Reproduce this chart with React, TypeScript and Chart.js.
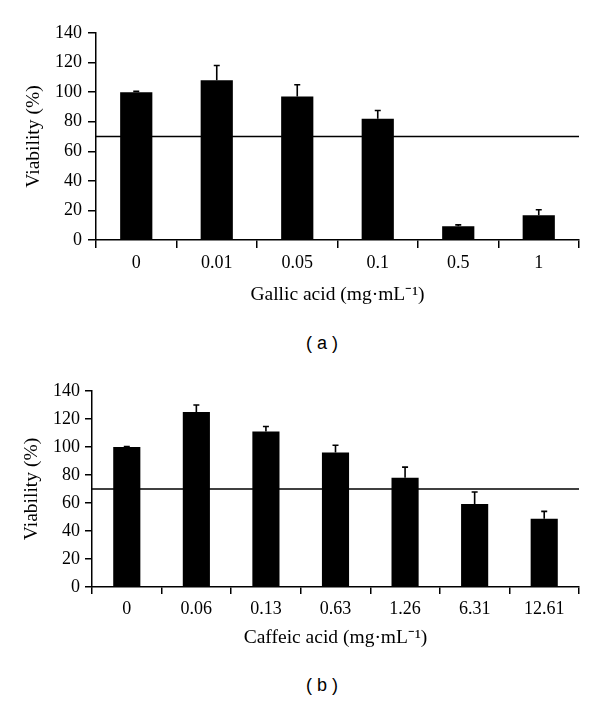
import React, { useEffect, useRef } from "react";
import Chart from "chart.js/auto";

// ---- Data ----
const gallicLabels = ["0", "0.01", "0.05", "0.1", "0.5", "1"];
const gallicValues = [100, 108, 97, 82, 9.3, 16.7];
const gallicErrors = [0.5, 10, 8, 5.6, 0.9, 3.8];

const caffeicLabels = ["0", "0.06", "0.13", "0.63", "1.26", "6.31", "12.61"];
const caffeicValues = [100, 125, 111, 96, 78, 59.3, 48.8];
const caffeicErrors = [0.3, 5, 3.6, 5.2, 7.6, 8.6, 5.2];

const yMin = 0;
const yMax = 140;
const yStep = 20;
const threshold = 70;

const SERIF = "'Liberation Serif', 'Times New Roman', serif";
const FONT_SIZE = 18;
const TITLE_SIZE = 19.5;

const errorBarPlugin = {
  id: "errorBars",
  afterDatasetsDraw(chart: any, _args: any, opts: any) {
    const errs: number[] = opts.errors || [];
    const meta = chart.getDatasetMeta(0);
    const ys = chart.scales.y;
    const ctx = chart.ctx;
    ctx.save();
    ctx.strokeStyle = "#000";
    ctx.lineWidth = 1.6;
    meta.data.forEach((bar: any, i: number) => {
      const v = chart.data.datasets[0].data[i] as number;
      const top = ys.getPixelForValue(v + errs[i]);
      ctx.beginPath();
      ctx.moveTo(bar.x, bar.y);
      ctx.lineTo(bar.x, top);
      ctx.moveTo(bar.x - 3, top);
      ctx.lineTo(bar.x + 3, top);
      ctx.stroke();
    });
    ctx.restore();
  },
};

const thresholdPlugin = {
  id: "thresholdLine",
  beforeDatasetsDraw(chart: any, _args: any, opts: any) {
    const { ctx, chartArea } = chart;
    const y = chart.scales.y.getPixelForValue(opts.value);
    ctx.save();
    ctx.strokeStyle = "#000";
    ctx.lineWidth = 1.5;
    ctx.beginPath();
    ctx.moveTo(chartArea.left, y);
    ctx.lineTo(chartArea.right, y);
    ctx.stroke();
    ctx.restore();
  },
};

type PanelProps = {
  labels: string[];
  values: number[];
  errors: number[];
  xTitle: string;
  width: number;
  height: number;
  padTop: number;
  padRight: number;
  yAxisWidth: number;
  xAxisHeight: number;
  yTitlePad: number;
  xTitlePad: number;
  tickLen: number;
  xTickPad: number;
  yTickPad: number;
  barPct: number;
};

function Panel(p: PanelProps) {
  const ref = useRef<HTMLCanvasElement | null>(null);
  useEffect(() => {
    if (!ref.current) return;
    const font = { family: SERIF, size: FONT_SIZE };
    const titleFont = { family: SERIF, size: TITLE_SIZE };
    const chart = new Chart(ref.current, {
      type: "bar",
      data: {
        labels: p.labels,
        datasets: [
          {
            data: p.values,
            backgroundColor: "#000",
            borderWidth: 0,
            barPercentage: p.barPct,
            categoryPercentage: 1,
          },
        ],
      },
      options: {
        responsive: false,
        animation: false,
        devicePixelRatio: 1,
        layout: { padding: { top: p.padTop, right: p.padRight, left: 0, bottom: 0 } },
        plugins: {
          legend: { display: false },
          tooltip: { enabled: false },
          errorBars: { errors: p.errors },
          thresholdLine: { value: threshold },
        } as any,
        scales: {
          x: {
            offset: true,
            grid: {
              display: true,
              offset: true,
              drawOnChartArea: false,
              drawTicks: true,
              tickLength: p.tickLen,
              color: "#000",
              lineWidth: 1.5,
            },
            border: { display: true, color: "#000", width: 1.5 },
            ticks: { color: "#000", font, padding: p.xTickPad, maxRotation: 0 },
            title: {
              display: true,
              text: p.xTitle,
              color: "#000",
              font: titleFont,
              padding: { top: 0, bottom: p.xTitlePad },
            },
            afterFit: (s: any) => {
              s.height = p.xAxisHeight;
            },
          },
          y: {
            min: yMin,
            max: yMax,
            grid: {
              display: true,
              drawOnChartArea: false,
              drawTicks: true,
              tickLength: p.tickLen,
              color: "#000",
              lineWidth: 1.5,
            },
            border: { display: true, color: "#000", width: 1.5 },
            ticks: { stepSize: yStep, color: "#000", font, padding: p.yTickPad },
            title: {
              display: true,
              text: "Viability (%)",
              color: "#000",
              font: titleFont,
              padding: { top: p.yTitlePad, bottom: 0 },
            },
            afterFit: (s: any) => {
              s.width = p.yAxisWidth;
            },
          },
        },
      },
      plugins: [thresholdPlugin, errorBarPlugin],
    } as any);
    return () => chart.destroy();
  }, []);
  return (
    <canvas
      ref={ref}
      width={p.width}
      height={p.height}
      style={{ display: "block", width: p.width, height: p.height }}
    />
  );
}

const captionStyle: React.CSSProperties = {
  position: "absolute",
  left: 322,
  transform: "translate(-50%, -50%)",
  fontFamily: "'Liberation Sans', Arial, sans-serif",
  fontSize: 18,
  color: "#000",
  whiteSpace: "pre",
  lineHeight: 1,
};

export default function App() {
  return (
    <div
      style={{
        position: "absolute",
        left: 0,
        top: 0,
        width: 600,
        height: 701,
        background: "#fff",
      }}
    >
      <div style={{ position: "absolute", left: 0, top: 0 }}>
        <Panel
          labels={gallicLabels}
          values={gallicValues}
          errors={gallicErrors}
          xTitle="Gallic acid (mg·mL⁻¹)"
          width={600}
          height={320}
          padTop={33}
          padRight={21}
          yAxisWidth={96}
          xAxisHeight={80}
          yTitlePad={22}
          xTitlePad={13}
          tickLen={8}
          xTickPad={4}
          yTickPad={6}
          barPct={0.4}
        />
      </div>
      <div style={{ ...captionStyle, top: 343 }}>( a )</div>
      <div style={{ position: "absolute", left: 0, top: 370 }}>
        <Panel
          labels={caffeicLabels}
          values={caffeicValues}
          errors={caffeicErrors}
          xTitle="Caffeic acid (mg·mL⁻¹)"
          width={600}
          height={290}
          padTop={21}
          padRight={21}
          yAxisWidth={92}
          xAxisHeight={73}
          yTitlePad={20}
          xTitlePad={10}
          tickLen={7}
          xTickPad={4}
          yTickPad={5}
          barPct={0.39}
        />
      </div>
      <div style={{ ...captionStyle, top: 685 }}>( b )</div>
    </div>
  );
}
